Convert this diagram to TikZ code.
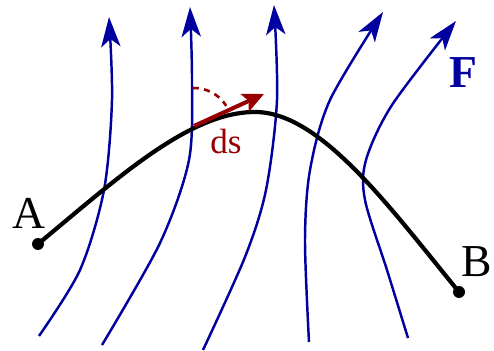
\documentclass[tikz,border=0pt]{standalone}
\usepackage{fontspec}
\setmainfont{Liberation Serif}
\usepackage{xcolor}
\usetikzlibrary{arrows.meta}
\definecolor{fieldblue}{RGB}{0,0,160}
\definecolor{dsred}{RGB}{150,0,0}

\begin{document}
\begin{tikzpicture}[x=0.02cm,y=-0.02cm,
        fieldline/.style={fieldblue,line width=1.4pt,-{Stealth[length=17pt,width=11pt,inset=4.5pt]}},
        pathline/.style={black,line width=2.4pt},
        lbl/.style={font=\fontsize{26}{30}\selectfont}]
    \useasboundingbox (0,0) rectangle (494,351);
    % field lines
    \draw[fieldline] plot[smooth] coordinates {(39,336) (80,270) (104,190) (112,100) (109,17)};
    \draw[fieldline] plot[smooth] coordinates {(102,345) (160,243) (189,160) (192,80) (190,7)};
    \draw[fieldline] plot[smooth] coordinates {(203,350) (245,257) (266,190) (277,100) (274,5)};
    \draw[fieldline] plot[smooth] coordinates {(309,342) (305,240) (310,170) (330,100) (383,12)};
    \draw[fieldline] plot[smooth] coordinates {(408,338) (387,270) (365,200) (366,160) (392,105) (456,21)};
    \node[fieldblue,font=\fontsize{26}{30}\selectfont\bfseries] (F) at (463,73) {F};
    % path from A to B
    \coordinate (A) at (38,244);
    \coordinate (B) at (459,292);
    \draw[pathline] (A) .. controls (120,176) and (190,112) .. (255,112)
        .. controls (320,112) and (388,205) .. (B);
    \fill (A) circle (6);
    \fill (B) circle (6);
    \node[lbl] (labA) at (29,213) {A};
    \node[lbl] (labB) at (477,262) {B};
    % line element
    \coordinate (P) at (194,126);
    \coordinate (Q) at (264,94);
    \draw[dsred,line width=2.3pt,-{Stealth[length=12pt,width=11pt,inset=2.5pt]}] (P) -- (Q);
    \draw[dsred,line width=1.5pt,dash pattern=on 3.5pt off 3pt] ([shift={(-92:38)}]P) arc[start angle=-92,end angle=-32,radius=38];
    \node[dsred,font=\fontsize{20}{24}\selectfont] (ds) at (226,141) {ds};
\end{tikzpicture}
\end{document}
